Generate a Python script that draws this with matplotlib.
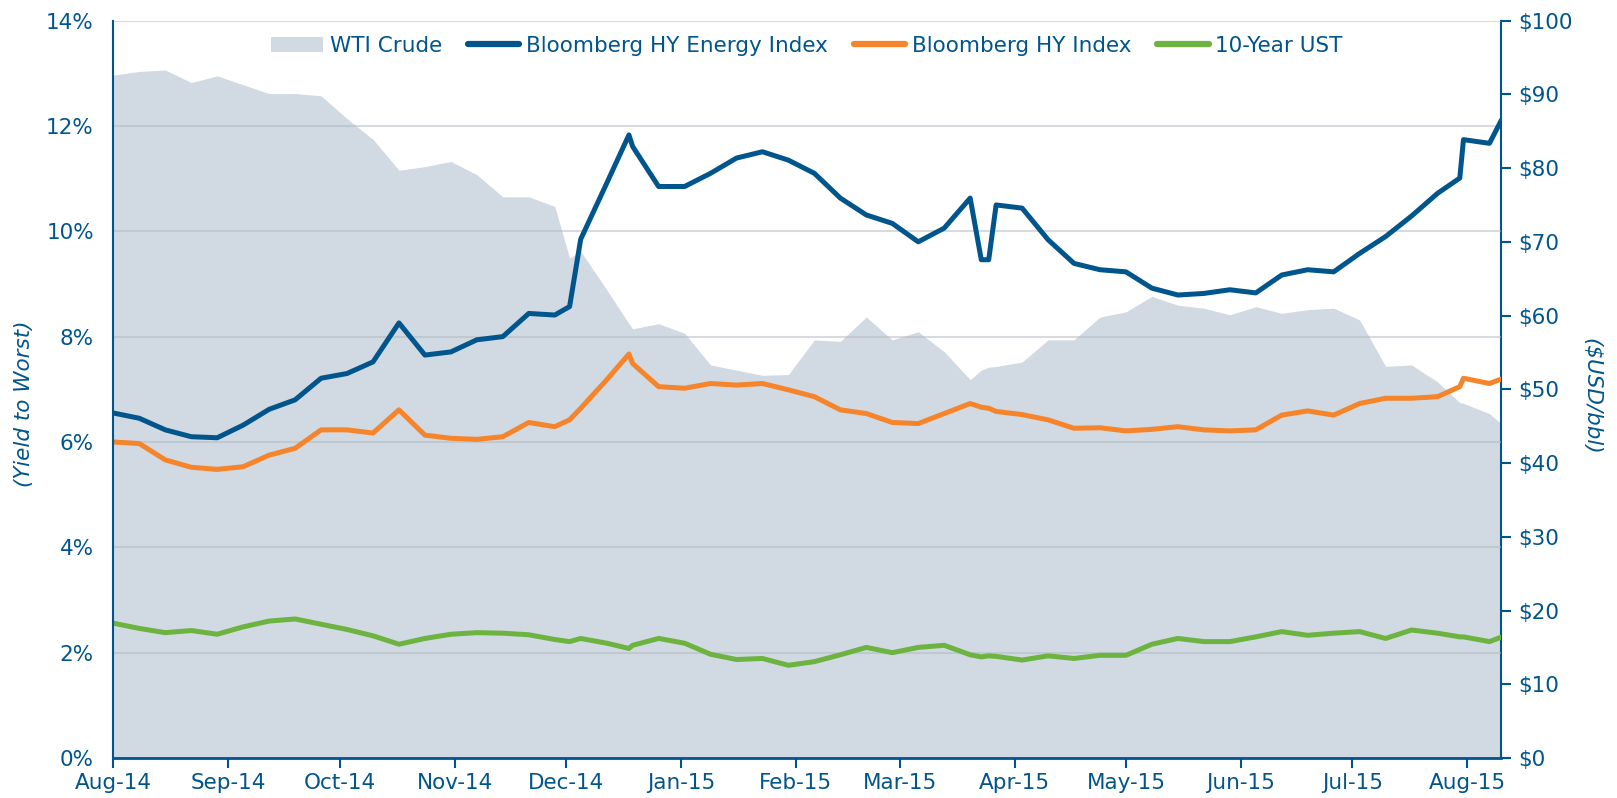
# ==========================================================
# GRÁFICO: Yield to Worst HY vs. WTI Crude (Aug-14 a Aug-15)
# ==========================================================

import matplotlib
matplotlib.use("Agg")
import matplotlib.pyplot as plt
import matplotlib.dates as mdates
import matplotlib.ticker as mticker
from matplotlib.patches import Patch
import pandas as pd

# ----------------------------------------------------------
# DATOS (semanales)
# ----------------------------------------------------------
fechas = [
    "2014-08-01", "2014-08-08", "2014-08-15", "2014-08-22", "2014-08-29",
    "2014-09-05", "2014-09-12", "2014-09-19", "2014-09-26",
    "2014-10-03", "2014-10-10", "2014-10-17", "2014-10-24", "2014-10-31",
    "2014-11-07", "2014-11-14", "2014-11-21", "2014-11-28",
    "2014-12-02", "2014-12-05", "2014-12-12", "2014-12-18", "2014-12-19", "2014-12-26",
    "2015-01-02", "2015-01-09", "2015-01-16", "2015-01-23", "2015-01-30",
    "2015-02-06", "2015-02-13", "2015-02-20", "2015-02-27",
    "2015-03-06", "2015-03-13", "2015-03-20", "2015-03-23", "2015-03-25", "2015-03-27",
    "2015-04-03", "2015-04-10", "2015-04-17", "2015-04-24",
    "2015-05-01", "2015-05-08", "2015-05-15", "2015-05-22", "2015-05-29",
    "2015-06-05", "2015-06-12", "2015-06-19", "2015-06-26",
    "2015-07-03", "2015-07-10", "2015-07-17", "2015-07-24", "2015-07-30", "2015-07-31",
    "2015-08-07", "2015-08-10",
]

hy_energy = [
    6.55, 6.45, 6.23, 6.10, 6.08,
    6.32, 6.62, 6.80, 7.21,
    7.30, 7.52, 8.26, 7.65, 7.71,
    7.94, 8.00, 8.44, 8.41,
    8.57, 9.85, 10.91, 11.83, 11.61, 10.85,
    10.85, 11.10, 11.39, 11.51, 11.35,
    11.10, 10.63, 10.31, 10.15,
    9.80, 10.06, 10.63, 9.46, 9.46, 10.50,
    10.44, 9.84, 9.39, 9.27,
    9.23, 8.92, 8.79, 8.82, 8.89,
    8.83, 9.17, 9.27, 9.23,
    9.58, 9.90, 10.29, 10.72, 11.01, 11.74,
    11.67, 12.08,
]

hy_index = [
    6.00, 5.97, 5.66, 5.52, 5.48,
    5.53, 5.75, 5.88, 6.23,
    6.23, 6.17, 6.61, 6.13, 6.07,
    6.05, 6.10, 6.37, 6.29,
    6.42, 6.64, 7.18, 7.67, 7.49, 7.05,
    7.02, 7.11, 7.08, 7.11, 6.99,
    6.86, 6.61, 6.54, 6.37,
    6.35, 6.54, 6.73, 6.66, 6.64, 6.58,
    6.52, 6.42, 6.26, 6.27,
    6.21, 6.24, 6.29, 6.23, 6.21,
    6.23, 6.51, 6.59, 6.51,
    6.73, 6.83, 6.83, 6.86, 7.05, 7.21,
    7.11, 7.19,
]

ust_10y = [
    2.56, 2.46, 2.38, 2.42, 2.35,
    2.49, 2.60, 2.64, 2.54,
    2.44, 2.32, 2.16, 2.27, 2.35,
    2.38, 2.37, 2.34, 2.25,
    2.21, 2.27, 2.18, 2.08, 2.14, 2.27,
    2.18, 1.97, 1.87, 1.89, 1.76,
    1.83, 1.96, 2.10, 2.00,
    2.10, 2.14, 1.96, 1.92, 1.94, 1.93,
    1.86, 1.94, 1.89, 1.95,
    1.95, 2.16, 2.27, 2.21, 2.21,
    2.30, 2.40, 2.33, 2.37,
    2.40, 2.27, 2.43, 2.37, 2.30, 2.30,
    2.21, 2.29,
]

wti_crude = [
    92.6, 93.1, 93.3, 91.6, 92.5,
    91.3, 90.1, 90.1, 89.8,
    86.7, 83.9, 79.7, 80.2, 80.9,
    79.1, 76.1, 76.1, 74.8,
    67.8, 68.7, 63.5, 58.9, 58.2, 58.9,
    57.6, 53.3, 52.6, 51.9, 52.0,
    56.7, 56.5, 59.8, 56.7,
    57.8, 55.1, 51.3, 52.6, 53.0, 53.1,
    53.7, 56.7, 56.7, 59.8,
    60.5, 62.6, 61.4, 61.0, 60.1,
    61.2, 60.3, 60.8, 61.0,
    59.4, 53.1, 53.3, 51.0, 48.2, 48.1,
    46.7, 45.4,
]

fechas = pd.to_datetime(fechas)

# ----------------------------------------------------------
# COLORES
# ----------------------------------------------------------
AZUL    = "#00558C"
NARANJA = "#F5842A"
VERDE   = "#6DB33F"
GRIS    = "#D1D9E2"
TAM     = 15.5

# ==========================================================
# FIGURA
# ==========================================================
fig = plt.figure(figsize=(16.17, 7.98), dpi=100)
eje = fig.add_axes([0.0701, 0.0501, 0.8579, 0.9241])
eje2 = eje.twinx()

# Área WTI en el eje derecho, detrás de las líneas
eje2.fill_between(fechas, wti_crude, 0, color=GRIS, linewidth=0)
eje.set_zorder(eje2.get_zorder() + 1)
eje.patch.set_visible(False)

eje.plot(fechas, hy_energy, color=AZUL, lw=3.6, solid_joinstyle="round")
eje.plot(fechas, hy_index, color=NARANJA, lw=3.6, solid_joinstyle="round")
eje.plot(fechas, ust_10y, color=VERDE, lw=3.6, solid_joinstyle="round")

# Ejes
eje.set_xlim(pd.Timestamp("2014-08-01"), pd.Timestamp("2015-08-10"))
eje.set_ylim(0, 14)
eje2.set_ylim(0, 100)
eje.yaxis.set_major_locator(mticker.MultipleLocator(2))
eje.yaxis.set_major_formatter(mticker.FuncFormatter(lambda v, _: f"{v:.0f}%"))
eje2.yaxis.set_major_locator(mticker.MultipleLocator(10))
eje2.yaxis.set_major_formatter(mticker.FuncFormatter(lambda v, _: f"${v:.0f}"))
eje.xaxis.set_major_locator(mdates.MonthLocator())
eje.xaxis.set_major_formatter(mdates.DateFormatter("%b-%y"))

eje.set_axisbelow(True)
eje.yaxis.grid(True, color="#B0B8C0", alpha=0.5, lw=1.5)

for lado in ["top", "right"]:
    eje.spines[lado].set_visible(False)
for lado in ["top", "left", "bottom"]:
    eje2.spines[lado].set_visible(False)
eje.spines["left"].set_color(AZUL)
eje.spines["left"].set_linewidth(1.5)
eje.spines["bottom"].set_color(AZUL)
eje.spines["bottom"].set_linewidth(2)
eje2.spines["right"].set_color(AZUL)
eje2.spines["right"].set_linewidth(1.5)

eje.tick_params(axis="y", length=0, pad=14, labelcolor=AZUL, labelsize=TAM)
eje.tick_params(axis="x", length=7, width=1.5, color=AZUL, labelcolor=AZUL,
                labelsize=TAM, pad=4)
eje2.tick_params(axis="y", length=7, width=1.5, color=AZUL, labelcolor=AZUL,
                 labelsize=TAM, pad=6)

eje.set_ylabel("(Yield to Worst)", style="italic", color=AZUL, fontsize=TAM)
eje.yaxis.set_label_coords(-0.0572, 0.48)
eje2.set_ylabel("($USD/bbl)", style="italic", color=AZUL, fontsize=TAM, rotation=270)
eje2.yaxis.set_label_coords(1.0724, 0.49)

# Leyenda
manejadores = [
    Patch(facecolor=GRIS, edgecolor="none"),
    plt.Line2D([], [], color=AZUL, lw=4.5, solid_capstyle="round"),
    plt.Line2D([], [], color=NARANJA, lw=4.5, solid_capstyle="round"),
    plt.Line2D([], [], color=VERDE, lw=4.5, solid_capstyle="round"),
]
etiquetas = ["WTI Crude", "Bloomberg HY Energy Index", "Bloomberg HY Index", "10-Year UST"]
leyenda = eje.legend(manejadores, etiquetas, loc="upper center", bbox_to_anchor=(0.5, 1.0),
                     ncol=4, frameon=False, fontsize=TAM, handlelength=2.4,
                     handletextpad=0.3, columnspacing=1.2, borderaxespad=0.3)
for texto in leyenda.get_texts():
    texto.set_color(AZUL)

plt.savefig("out.png", dpi=100)
